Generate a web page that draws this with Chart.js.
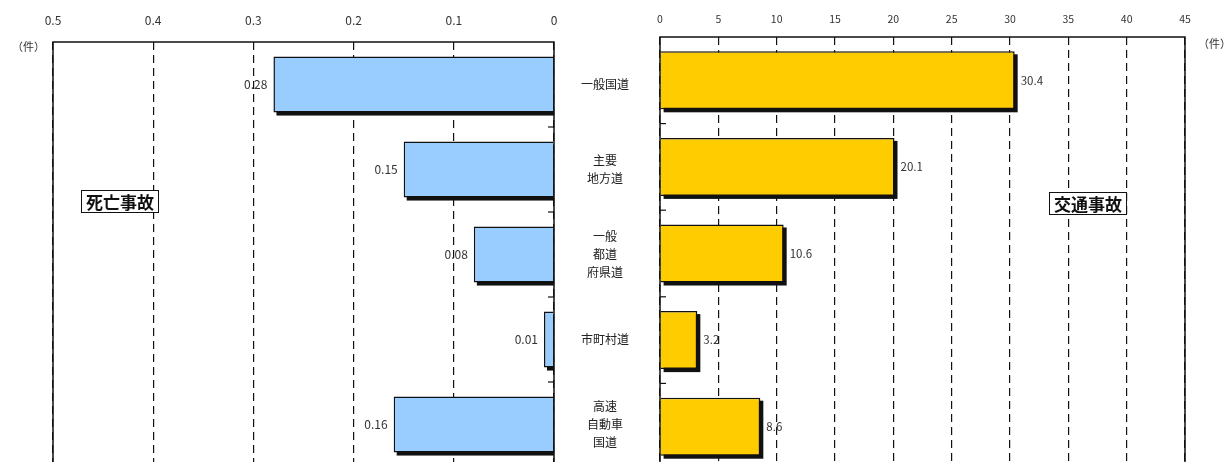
<!DOCTYPE html>
<html lang="ja">
<head>
<meta charset="utf-8">
<script src="https://cdn.jsdelivr.net/npm/chart.js@4/dist/chart.umd.min.js"></script>
<style>
  html, body { margin: 0; padding: 0; background: #fff; }
  #stage { position: relative; width: 1227px; height: 462px; overflow: hidden; background: #fff;
           font-family: "Noto Sans CJK JP", "Noto Sans", sans-serif; }
  #leftWrap { position: absolute; left: 0; top: 0; }
  #rightWrap { position: absolute; left: 600px; top: 0; }
  .unit { position: absolute; font-size: 11px; color: #333; line-height: 14px; white-space: nowrap; }
  .tag { position: absolute; border: 1.5px solid #111; background: #fff; color: #111;
         font-size: 17px; font-weight: bold; line-height: 21px; padding: 0 4px; white-space: nowrap; }
</style>
</head>
<body>
<div id="stage">
  <div id="leftWrap"><canvas id="fatal" width="660" height="470"></canvas></div>
  <div id="rightWrap"><canvas id="accident" width="627" height="473"></canvas></div>
  <div class="unit" style="left:12px; top:39px;">（件）</div>
  <div class="unit" style="left:1198px; top:36px;">（件）</div>
  <div class="tag" style="left:81px; top:190px;">死亡事故</div>
  <div class="tag" style="left:1049px; top:192px;">交通事故</div>
</div>
<script>
// Road types (multi-line labels shown between the two panels)
const categories = [
  ['一般国道'],
  ['主要', '地方道'],
  ['一般', '都道', '府県道'],
  ['市町村道'],
  ['高速', '自動車', '国道']
];
// Fatal accidents per road type (left panel)
const fatalRates = [0.28, 0.15, 0.08, 0.01, 0.16];
// Traffic accidents per road type (right panel)
const accidentRates = [30.4, 20.1, 10.6, 3.2, 8.6];
// Axis ranges
const fatalAxis = { min: 0, max: 0.5, step: 0.1 };
const accidentAxis = { min: 0, max: 45, step: 5 };

const FONT = '"Noto Sans CJK JP", "Noto Sans", sans-serif';

// Drop shadow behind each bar, offset down-right
const barShadow = {
  id: 'barShadow',
  beforeDatasetsDraw(chart) {
    const { ctx, chartArea: a } = chart;
    ctx.save();
    ctx.beginPath();
    ctx.rect(a.left, a.top, a.right - a.left, a.bottom - a.top);
    ctx.clip();
    ctx.fillStyle = '#111';
    chart.getDatasetMeta(0).data.forEach(bar => {
      const p = bar.getProps(['x', 'y', 'base', 'height'], true);
      const l = Math.min(p.x, p.base), r = Math.max(p.x, p.base);
      ctx.fillRect(l + 3, p.y - p.height / 2 + 3, r - l, p.height);
    });
    ctx.restore();
  }
};

// Solid frame round the plot area plus short inward ticks on the zero edge
const frame = {
  id: 'frame',
  afterDraw(chart, args, opts) {
    const { ctx, chartArea: a } = chart;
    const ys = chart.scales.y;
    ctx.save();
    ctx.strokeStyle = '#111';
    ctx.lineWidth = 1.5;
    ctx.strokeRect(a.left, a.top, a.right - a.left, a.bottom - a.top);
    const edge = opts.side === 'right' ? a.right : a.left;
    const dir = opts.side === 'right' ? -1 : 1;
    ctx.lineWidth = 1.2;
    for (let i = 0; i < categories.length - 1; i++) {
      const yb = (ys.getPixelForValue(i) + ys.getPixelForValue(i + 1)) / 2;
      ctx.beginPath();
      ctx.moveTo(edge, yb);
      ctx.lineTo(edge + dir * 6, yb);
      ctx.stroke();
    }
    ctx.restore();
  }
};

// Value labels next to the bar ends
const valueLabels = {
  id: 'valueLabels',
  afterDatasetsDraw(chart, args, opts) {
    const { ctx } = chart;
    const ds = chart.data.datasets[0];
    ctx.save();
    ctx.font = opts.font;
    ctx.fillStyle = '#333';
    ctx.textBaseline = 'middle';
    ctx.textAlign = opts.align;
    chart.getDatasetMeta(0).data.forEach((bar, i) => {
      const txt = ds.data[i].toFixed(opts.digits);
      ctx.fillText(txt, bar.x + opts.offset, bar.y);
    });
    ctx.restore();
  }
};

const dashedGrid = { color: '#111', lineWidth: 1.2, drawTicks: false };

new Chart(document.getElementById('fatal'), {
  type: 'bar',
  data: {
    labels: categories,
    datasets: [{
      data: fatalRates,
      backgroundColor: '#99CCFF',
      borderColor: '#111',
      borderWidth: 1.5,
      barPercentage: 0.66,
      categoryPercentage: 1
    }]
  },
  plugins: [barShadow, valueLabels, frame],
  options: {
    indexAxis: 'y',
    responsive: false,
    animation: false,
    layout: { padding: { left: 53, right: 0, top: 0, bottom: 3 } },
    plugins: {
      legend: { display: false },
      tooltip: { enabled: false },
      valueLabels: { font: '12px ' + FONT, align: 'right', offset: -6, digits: 2 },
      frame: { side: 'right' }
    },
    scales: {
      x: {
        position: 'top',
        reverse: true,
        min: fatalAxis.min,
        max: fatalAxis.max,
        afterFit(s) { s.height = 42; },
        ticks: { stepSize: fatalAxis.step, padding: 14, color: '#333', font: { family: FONT, size: 12 } },
        grid: dashedGrid,
        border: { display: false, dash: [8, 5] }
      },
      y: {
        position: 'right',
        afterFit(s) { s.width = 106; s.paddingTop = 0; s.paddingBottom = 0; },
        ticks: { crossAlign: 'center', padding: 27, color: '#222',
                 font: { family: FONT, size: 12, lineHeight: 1.5 } },
        grid: { display: false, drawTicks: false },
        border: { display: false }
      }
    }
  }
});

new Chart(document.getElementById('accident'), {
  type: 'bar',
  data: {
    labels: categories,
    datasets: [{
      data: accidentRates,
      backgroundColor: '#FFCC00',
      borderColor: '#111',
      borderWidth: 1.5,
      barPercentage: 0.67,
      categoryPercentage: 1
    }]
  },
  plugins: [barShadow, valueLabels, frame],
  options: {
    indexAxis: 'y',
    responsive: false,
    animation: false,
    layout: { padding: { left: 60, right: 42, top: 0, bottom: 3 } },
    plugins: {
      legend: { display: false },
      tooltip: { enabled: false },
      valueLabels: { font: '11.5px ' + FONT, align: 'left', offset: 6, digits: 1 },
      frame: { side: 'left' }
    },
    scales: {
      x: {
        position: 'top',
        min: accidentAxis.min,
        max: accidentAxis.max,
        afterFit(s) { s.height = 37; },
        ticks: { stepSize: accidentAxis.step, padding: 12, color: '#333', font: { family: FONT, size: 10.5 } },
        grid: dashedGrid,
        border: { display: false, dash: [8, 5] }
      },
      y: {
        display: false
      }
    }
  }
});
</script>
</body>
</html>
